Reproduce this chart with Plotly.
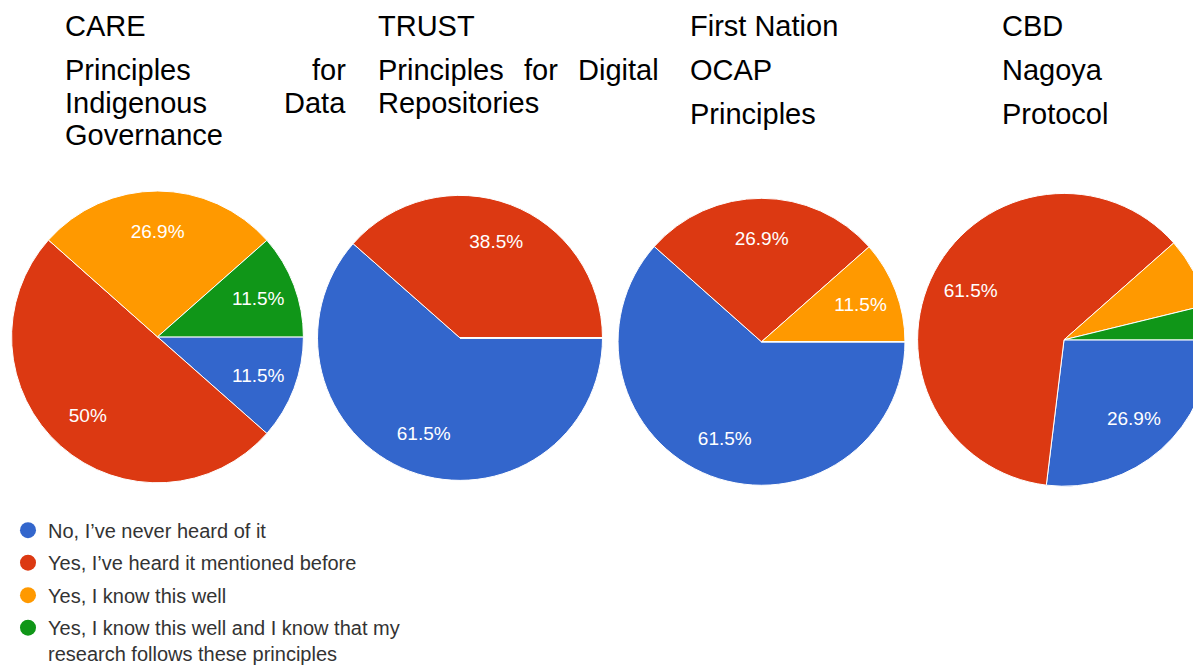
import plotly.graph_objects as go

# ---------------- data ----------------
categories = [
    "No, I’ve never heard of it",
    "Yes, I’ve heard it mentioned before",
    "Yes, I know this well",
    "Yes, I know this well and I know that my<br>research follows these principles",
]
colors = ["#3366cc", "#dc3912", "#ff9900", "#109618"]

care_values = [11.5, 50.0, 26.9, 11.5]
trust_values = [61.5, 38.5, 0.0, 0.0]
ocap_values = [61.5, 26.9, 11.5, 0.0]
nagoya_values = [26.9, 61.5, 7.7, 3.8]

chart_titles = [
    ["CARE", "Principles for", "Indigenous Data", "Governance"],
    ["TRUST", "Principles for Digital", "Repositories"],
    ["First Nation", "OCAP", "Principles"],
    ["CBD", "Nagoya", "Protocol"],
]

# ---------------- layout helpers ----------------
W, H = 1215, 666
OFF_X = 8  # page body margin (horizontal)
FONT = "Liberation Sans, Arial, Helvetica, sans-serif"


def px_x(v):
    return (v - OFF_X) / W


def px_y(v):
    return 1 - v / H


# pie centres and radii in page pixels
pie_geom = [
    (157.5, 337, 146.5),
    (460, 338, 143),
    (761.5, 342, 144),
    (1064, 340, 147),
]
PAD = 3
all_values = [care_values, trust_values, ocap_values, nagoya_values]

fig = go.Figure()

for vals, (cx, cy, r) in zip(all_values, pie_geom):
    dom = dict(x=[px_x(cx - r - PAD), px_x(cx + r + PAD)],
               y=[px_y(cy + r + PAD), px_y(cy - r - PAD)])
    texts = [f"{v:g}%" if v >= 10 else "" for v in vals]
    # coloured slices
    fig.add_trace(
        go.Pie(
            labels=categories,
            values=vals,
            textinfo="none",
            marker=dict(colors=colors, line=dict(color="white", width=1)),
            sort=False,
            direction="clockwise",
            rotation=90,
            showlegend=False,
            hovertemplate="%{label}: %{value}%<extra></extra>",
            domain=dom,
        )
    )
    # percentage labels, placed in the outer part of each slice
    fig.add_trace(
        go.Pie(
            labels=categories,
            values=vals,
            text=texts,
            textinfo="text",
            textposition="inside",
            insidetextorientation="horizontal",
            textfont=dict(family=FONT, size=19, color="white"),
            marker=dict(colors=["rgba(0,0,0,0)"] * 4, line=dict(width=0)),
            hole=0.44,
            sort=False,
            direction="clockwise",
            rotation=90,
            showlegend=False,
            hoverinfo="skip",
            domain=dom,
        )
    )

# legend entries (circle symbols)
for i, (name, c) in enumerate(zip(categories, colors)):
    fig.add_trace(
        go.Scatter(
            x=[None], y=[None], mode="markers", name=name,
            marker=dict(color=c, size=16, symbol="circle"),
            legendgroup=f"g{i}", showlegend=True, hoverinfo="skip",
        )
    )

# title annotations
col_left = [63, 376, 688, 1000]
col_right = [348, 661, 973, 1285]
baselines = [
    [36, 82, 115, 148],
    [36, 82, 115],
    [36, 82, 127],
    [36, 82, 127],
]
justified = {(0, 1), (0, 2), (1, 1)}
middle_centers = {(1, 1): 541}
TFS = 29
TITLE_DY = -8

annotations = []
for ci, lines in enumerate(chart_titles):
    for li, line in enumerate(lines):
        yc = px_y(baselines[ci][li] - 0.3465 * TFS + TITLE_DY)
        words = line.split(" ")
        if (ci, li) in justified and len(words) > 1:
            annotations.append(dict(text=words[0], x=px_x(col_left[ci]), xanchor="left", y=yc))
            annotations.append(dict(text=words[-1], x=px_x(col_right[ci]), xanchor="right", y=yc))
            if len(words) == 3:
                annotations.append(dict(text=words[1], x=px_x(middle_centers[(ci, li)]),
                                        xanchor="center", y=yc))
        else:
            annotations.append(dict(text=line, x=px_x(col_left[ci]), xanchor="left", y=yc))

for a in annotations:
    a.update(xref="paper", yref="paper", yanchor="middle", showarrow=False,
             font=dict(family=FONT, size=TFS, color="#000000"))

fig.update_layout(
    width=W,
    height=H,
    margin=dict(l=0, r=0, t=0, b=0),
    paper_bgcolor="white",
    plot_bgcolor="white",
    xaxis=dict(visible=False),
    yaxis=dict(visible=False),
    annotations=annotations,
    showlegend=True,
    legend=dict(
        x=0, y=px_y(515), xanchor="left", yanchor="top",
        font=dict(family=FONT, size=20, color="#333333"),
        traceorder="grouped", tracegroupgap=3.5, valign="top",
        bgcolor="rgba(0,0,0,0)", itemclick=False, itemdoubleclick=False,
    ),
)

fig.write_html("out.html")
